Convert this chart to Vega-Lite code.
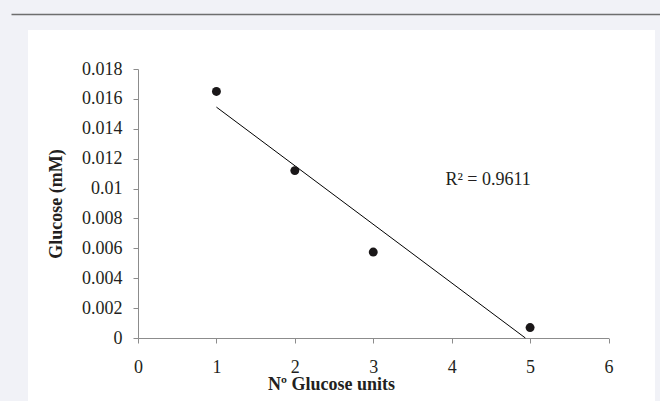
{
  "$schema": "https://vega.github.io/schema/vega-lite/v6.json",
  "autosize": {"type": "none"},
  "width": 627,
  "height": 371,
  "padding": {"left": 28, "top": 30, "right": 5, "bottom": 0},
  "background": "#f1f2f7",
  "config": {
    "view": {"fill": "white", "stroke": null},
    "font": "Liberation Serif"
  },
  "datasets": {
    "points": [
      {"units": 1, "glucose": 0.0165},
      {"units": 2, "glucose": 0.0112},
      {"units": 3, "glucose": 0.00575},
      {"units": 5, "glucose": 0.0007}
    ],
    "trend": [
      {"units": 1, "glucose": 0.01545},
      {"units": 4.94, "glucose": 0}
    ],
    "label": [
      {"units": 3.92, "glucose": 0.0106, "text": "R² = 0.9611"}
    ],
    "frame": [
      {"pos": 0},
      {"pos": 1}
    ]
  },
  "resolve": {"scale": {"x": "independent"}, "axis": {"x": "independent"}},
  "layer": [
    {
      "layer": [
        {
          "data": {"name": "trend"},
          "mark": {"type": "line", "color": "#000000", "strokeWidth": 1},
          "encoding": {
            "x": {"field": "units", "type": "quantitative"},
            "y": {"field": "glucose", "type": "quantitative"}
          }
        },
        {
          "data": {"name": "points"},
          "mark": {"type": "point", "filled": true, "size": 80, "color": "#1a1718", "opacity": 1},
          "encoding": {
            "x": {
              "field": "units",
              "type": "quantitative",
              "scale": {"domain": [0, 6], "range": [110, 580.5], "nice": false, "zero": false},
              "axis": {
                "orient": "bottom",
                "offset": -63,
                "values": [0, 1, 2, 3, 4, 5, 6],
                "format": "d",
                "grid": false,
                "tickSize": 5,
                "tickColor": "#8c8c8c",
                "domainColor": "#8c8c8c",
                "labelFont": "Liberation Serif",
                "labelFontSize": 18,
                "labelColor": "#231f20",
                "labelPadding": 15,
                "labelFlush": false,
                "labelOverlap": false,
                "title": "Nº Glucose units",
                "titleFont": "Liberation Serif",
                "titleFontSize": 18,
                "titleFontWeight": "bold",
                "titleColor": "#231f20",
                "titleX": 303,
                "titleY": 51,
                "titleBaseline": "alphabetic"
              }
            },
            "y": {
              "field": "glucose",
              "type": "quantitative",
              "scale": {"domain": [0, 0.018], "range": [308, 39], "nice": false, "zero": false},
              "axis": {
                "orient": "left",
                "offset": -110,
                "values": [0, 0.002, 0.004, 0.006, 0.008, 0.01, 0.012, 0.014, 0.016, 0.018],
                "format": "~g",
                "grid": false,
                "tickSize": 5,
                "tickColor": "#8c8c8c",
                "domainColor": "#8c8c8c",
                "labelFont": "Liberation Serif",
                "labelFontSize": 18,
                "labelColor": "#231f20",
                "labelPadding": 11,
                "labelFlush": false,
                "labelOverlap": false,
                "title": "Glucose (mM)",
                "titleFont": "Liberation Serif",
                "titleFontSize": 18,
                "titleFontWeight": "bold",
                "titleColor": "#231f20",
                "titleX": -82,
                "titleY": 173.5,
                "titleBaseline": "middle"
              }
            }
          }
        },
        {
          "data": {"name": "label"},
          "mark": {"type": "text", "align": "left", "baseline": "middle", "font": "Liberation Serif", "fontSize": 18, "color": "#231f20"},
          "encoding": {
            "x": {"field": "units", "type": "quantitative"},
            "y": {"field": "glucose", "type": "quantitative"},
            "text": {"field": "text"}
          }
        }
      ]
    },
    {
      "data": {"name": "frame"},
      "mark": {"type": "point", "opacity": 0},
      "encoding": {
        "x": {
          "field": "pos",
          "type": "quantitative",
          "scale": {"domain": [0, 1], "range": [-17, 632], "nice": false, "zero": false},
          "axis": {
            "orient": "top",
            "offset": 16,
            "labels": false,
            "ticks": false,
            "grid": false,
            "title": null,
            "domainColor": "#6e6e6e",
            "domainWidth": 1.5
          }
        }
      }
    }
  ]
}
